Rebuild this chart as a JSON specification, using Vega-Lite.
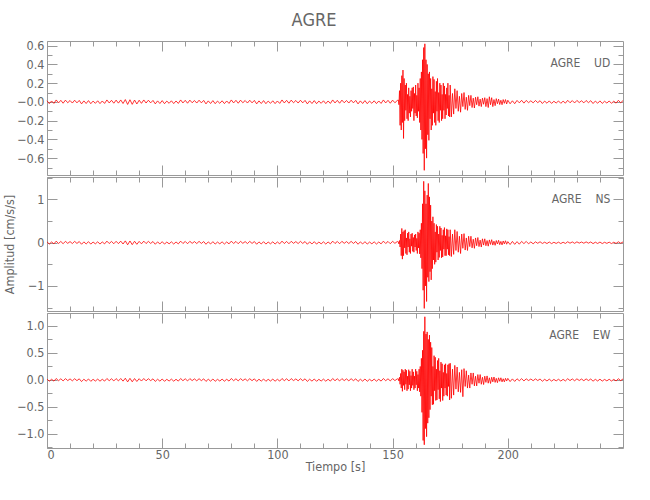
{
  "$schema": "https://vega.github.io/schema/vega-lite/v6.json",
  "background": "white",
  "padding": {"left": 2, "right": 5, "top": 12, "bottom": 5},
  "title": {"text": "AGRE", "anchor": "middle", "font": "DejaVu Sans Condensed, Liberation Sans, sans-serif", "fontSize": 18, "fontWeight": "normal", "color": "#666", "offset": 9},
  "spacing": 0,
  "config": {
    "view": {"stroke": "#999", "strokeWidth": 1},
    "axis": {"domain": false, "grid": false, "labelFont": "DejaVu Sans Condensed, Liberation Sans, sans-serif", "labelFontSize": 12.5, "labelColor": "#666", "tickColor": "#999", "tickWidth": 1, "titleFont": "DejaVu Sans Condensed, Liberation Sans, sans-serif", "titleFontSize": 12.5, "titleFontWeight": "normal", "titleColor": "#666", "labelPadding": 13}
  },
  "datasets": {
    "ud": [
      {"t":0,"a":0.012},{"t":1,"a":-0.018},{"t":2,"a":0.01},{"t":3,"a":-0.016},{"t":4,"a":0.021},{"t":5,"a":-0.011},{"t":6,"a":0.017},{"t":7,"a":-0.014},{"t":8,"a":0.019},{"t":9,"a":-0.009},{"t":10,"a":0.015},{"t":11,"a":-0.012},{"t":12,"a":0.018},{"t":13,"a":-0.01},{"t":14,"a":0.016},{"t":15,"a":-0.021},{"t":16,"a":0.011},{"t":17,"a":-0.017},{"t":18,"a":0.014},{"t":19,"a":-0.019},{"t":20,"a":0.009},{"t":21,"a":-0.015},{"t":22,"a":0.012},{"t":23,"a":-0.018},{"t":24,"a":0.01},{"t":25,"a":-0.016},{"t":26,"a":0.021},{"t":27,"a":-0.011},{"t":28,"a":0.017},{"t":29,"a":-0.014},{"t":30,"a":0.019},{"t":31,"a":-0.013},{"t":32,"a":0.021},{"t":33,"a":-0.017},{"t":34,"a":0.025},{"t":35,"a":-0.027},{"t":36,"a":0.023},{"t":37,"a":-0.026},{"t":38,"a":0.02},{"t":39,"a":-0.022},{"t":40,"a":0.018},{"t":41,"a":-0.015},{"t":42,"a":0.021},{"t":43,"a":-0.012},{"t":44,"a":0.018},{"t":45,"a":-0.01},{"t":46,"a":0.016},{"t":47,"a":-0.021},{"t":48,"a":0.011},{"t":49,"a":-0.017},{"t":50,"a":0.014},{"t":51,"a":-0.019},{"t":52,"a":0.009},{"t":53,"a":-0.015},{"t":54,"a":0.012},{"t":55,"a":-0.018},{"t":56,"a":0.01},{"t":57,"a":-0.016},{"t":58,"a":0.021},{"t":59,"a":-0.011},{"t":60,"a":0.017},{"t":61,"a":-0.014},{"t":62,"a":0.019},{"t":63,"a":-0.009},{"t":64,"a":0.015},{"t":65,"a":-0.012},{"t":66,"a":0.018},{"t":67,"a":-0.01},{"t":68,"a":0.016},{"t":69,"a":-0.021},{"t":70,"a":0.011},{"t":71,"a":-0.017},{"t":72,"a":0.014},{"t":73,"a":-0.019},{"t":74,"a":0.009},{"t":75,"a":-0.015},{"t":76,"a":0.012},{"t":77,"a":-0.018},{"t":78,"a":0.01},{"t":79,"a":-0.016},{"t":80,"a":0.021},{"t":81,"a":-0.011},{"t":82,"a":0.017},{"t":83,"a":-0.014},{"t":84,"a":0.019},{"t":85,"a":-0.009},{"t":86,"a":0.015},{"t":87,"a":-0.012},{"t":88,"a":0.018},{"t":89,"a":-0.01},{"t":90,"a":0.016},{"t":91,"a":-0.021},{"t":92,"a":0.011},{"t":93,"a":-0.017},{"t":94,"a":0.014},{"t":95,"a":-0.019},{"t":96,"a":0.009},{"t":97,"a":-0.015},{"t":98,"a":0.012},{"t":99,"a":-0.018},{"t":100,"a":0.01},{"t":101,"a":-0.016},{"t":102,"a":0.021},{"t":103,"a":-0.011},{"t":104,"a":0.017},{"t":105,"a":-0.014},{"t":106,"a":0.019},{"t":107,"a":-0.009},{"t":108,"a":0.015},{"t":109,"a":-0.012},{"t":110,"a":0.018},{"t":111,"a":-0.01},{"t":112,"a":0.016},{"t":113,"a":-0.021},{"t":114,"a":0.011},{"t":115,"a":-0.017},{"t":116,"a":0.014},{"t":117,"a":-0.019},{"t":118,"a":0.009},{"t":119,"a":-0.015},{"t":120,"a":0.012},{"t":121,"a":-0.018},{"t":122,"a":0.01},{"t":123,"a":-0.016},{"t":124,"a":0.021},{"t":125,"a":-0.011},{"t":126,"a":0.017},{"t":127,"a":-0.014},{"t":128,"a":0.019},{"t":129,"a":-0.009},{"t":130,"a":0.015},{"t":131,"a":-0.012},{"t":132,"a":0.018},{"t":133,"a":-0.01},{"t":134,"a":0.016},{"t":135,"a":-0.021},{"t":136,"a":0.011},{"t":137,"a":-0.017},{"t":138,"a":0.014},{"t":139,"a":-0.019},{"t":140,"a":0.009},{"t":141,"a":-0.015},{"t":142,"a":0.012},{"t":143,"a":-0.018},{"t":144,"a":0.01},{"t":145,"a":-0.016},{"t":146,"a":0.021},{"t":147,"a":-0.011},{"t":148,"a":0.017},{"t":149,"a":-0.014},{"t":150,"a":0.019},{"t":151,"a":-0.009},{"t":152,"a":0.015},
      {"t":152.5,"a":0.02},{"t":152.75,"a":-0.03},{"t":153,"a":0.12},{"t":153.25,"a":-0.25},{"t":153.5,"a":0.2},{"t":153.75,"a":-0.3},{"t":154,"a":0.28},{"t":154.25,"a":-0.22},{"t":154.5,"a":0.34},{"t":154.75,"a":-0.39},{"t":155,"a":0.25},{"t":155.25,"a":-0.2},{"t":155.5,"a":0.18},{"t":155.75,"a":-0.09},{"t":156,"a":0.2},{"t":156.25,"a":-0.18},{"t":156.5,"a":0.08},{"t":156.75,"a":-0.2},{"t":157,"a":0.15},{"t":157.25,"a":-0.12},{"t":157.5,"a":0.06},{"t":157.75,"a":-0.16},{"t":158,"a":0.12},{"t":158.25,"a":-0.1},{"t":158.5,"a":0.15},{"t":158.75,"a":-0.07},{"t":159,"a":0.16},{"t":159.25,"a":-0.2},{"t":159.5,"a":0.09},{"t":159.75,"a":-0.12},{"t":160,"a":0.18},{"t":160.25,"a":-0.15},{"t":160.5,"a":0.07},{"t":160.75,"a":-0.17},{"t":161,"a":0.2},{"t":161.25,"a":-0.1},{"t":161.5,"a":0.15},{"t":161.75,"a":-0.22},{"t":162,"a":0.25},{"t":162.25,"a":-0.3},{"t":162.5,"a":0.32},{"t":162.75,"a":-0.4},{"t":163,"a":0.45},{"t":163.25,"a":-0.55},{"t":163.5,"a":0.58},{"t":163.75,"a":-0.73},{"t":164,"a":0.62},{"t":164.25,"a":-0.5},{"t":164.5,"a":0.45},{"t":164.75,"a":-0.6},{"t":165,"a":0.4},{"t":165.25,"a":-0.35},{"t":165.5,"a":0.3},{"t":165.75,"a":-0.41},{"t":166,"a":0.32},{"t":166.25,"a":-0.18},{"t":166.5,"a":0.25},{"t":166.75,"a":-0.3},{"t":167,"a":0.14},{"t":167.25,"a":-0.25},{"t":167.5,"a":0.27},{"t":167.75,"a":-0.12},{"t":168,"a":0.24},{"t":168.25,"a":-0.22},{"t":168.5,"a":0.11},{"t":168.75,"a":-0.25},{"t":169,"a":0.22},{"t":169.25,"a":-0.1},{"t":169.5,"a":0.25},{"t":169.75,"a":-0.2},{"t":170,"a":0.1},{"t":170.25,"a":-0.22},{"t":170.5,"a":0.2},{"t":170.75,"a":-0.09},{"t":171,"a":0.18},{"t":171.25,"a":-0.2},{"t":171.5,"a":0.08},{"t":171.75,"a":-0.18},{"t":172,"a":0.2},{"t":172.25,"a":-0.09},{"t":172.5,"a":0.17},{"t":172.75,"a":-0.18},{"t":173,"a":0.08},{"t":173.25,"a":-0.14},{"t":173.5,"a":0.15},{"t":173.75,"a":-0.07},{"t":174,"a":0.2},{"t":174.25,"a":-0.15},{"t":174.5,"a":0.07},{"t":174.75,"a":-0.16},{"t":175,"a":0.18},
      {"t":175.5,"a":-0.16},{"t":176,"a":0.09},{"t":176.5,"a":-0.13},{"t":177,"a":0.14},{"t":177.5,"a":-0.07},{"t":178,"a":0.12},{"t":178.5,"a":-0.1},{"t":179,"a":0.06},{"t":179.5,"a":-0.11},{"t":180,"a":0.09},{"t":180.5,"a":-0.05},{"t":181,"a":0.1},{"t":181.5,"a":-0.08},{"t":182,"a":0.05},{"t":182.5,"a":-0.09},{"t":183,"a":0.07},{"t":183.5,"a":-0.04},{"t":184,"a":0.07},{"t":184.5,"a":-0.06},{"t":185,"a":0.04},{"t":185.5,"a":-0.065},{"t":186,"a":0.05},{"t":186.5,"a":-0.03},{"t":187,"a":0.055},{"t":187.5,"a":-0.045},{"t":188,"a":0.03},{"t":188.5,"a":-0.05},{"t":189,"a":0.04},{"t":189.5,"a":-0.025},{"t":190,"a":0.045},{"t":190.5,"a":-0.05},{"t":191,"a":0.035},{"t":191.5,"a":-0.06},{"t":192,"a":0.055},{"t":192.5,"a":-0.03},{"t":193,"a":0.045},{"t":193.5,"a":-0.05},{"t":194,"a":0.025},{"t":194.5,"a":-0.04},{"t":195,"a":0.035},{"t":195.5,"a":-0.02},{"t":196,"a":0.03},{"t":196.5,"a":-0.028},{"t":197,"a":0.018},{"t":197.5,"a":-0.03},{"t":198,"a":0.025},{"t":198.5,"a":-0.015},{"t":199,"a":0.025},{"t":199.5,"a":-0.022},{"t":200,"a":0.018},
      {"t":201,"a":-0.02},{"t":202,"a":0.012},{"t":203,"a":-0.019},{"t":204,"a":0.016},{"t":205,"a":-0.01},{"t":206,"a":0.017},{"t":207,"a":-0.013},{"t":208,"a":0.016},{"t":209,"a":-0.008},{"t":210,"a":0.012},{"t":211,"a":-0.01},{"t":212,"a":0.015},{"t":213,"a":-0.008},{"t":214,"a":0.013},{"t":215,"a":-0.017},{"t":216,"a":0.009},{"t":217,"a":-0.014},{"t":218,"a":0.011},{"t":219,"a":-0.016},{"t":220,"a":0.007},{"t":221,"a":-0.012},{"t":222,"a":0.01},{"t":223,"a":-0.015},{"t":224,"a":0.008},{"t":225,"a":-0.013},{"t":226,"a":0.017},{"t":227,"a":-0.009},{"t":228,"a":0.014},{"t":229,"a":-0.011},{"t":230,"a":0.016},{"t":231,"a":-0.007},{"t":232,"a":0.012},{"t":233,"a":-0.01},{"t":234,"a":0.015},{"t":235,"a":-0.008},{"t":236,"a":0.013},{"t":237,"a":-0.017},{"t":238,"a":0.009},{"t":239,"a":-0.014},{"t":240,"a":0.011},{"t":241,"a":-0.016},{"t":242,"a":0.007},{"t":243,"a":-0.012},{"t":244,"a":0.01},{"t":245,"a":-0.015},{"t":246,"a":0.008},{"t":247,"a":-0.013},{"t":248,"a":0.017},{"t":249,"a":-0.009},{"t":250,"a":0.014}
    ],
    "ns": [
      {"t":0,"a":0.02},{"t":1,"a":-0.031},{"t":2,"a":0.017},{"t":3,"a":-0.027},{"t":4,"a":0.036},{"t":5,"a":-0.019},{"t":6,"a":0.029},{"t":7,"a":-0.024},{"t":8,"a":0.032},{"t":9,"a":-0.015},{"t":10,"a":0.026},{"t":11,"a":-0.02},{"t":12,"a":0.031},{"t":13,"a":-0.017},{"t":14,"a":0.027},{"t":15,"a":-0.036},{"t":16,"a":0.019},{"t":17,"a":-0.029},{"t":18,"a":0.024},{"t":19,"a":-0.032},{"t":20,"a":0.015},{"t":21,"a":-0.026},{"t":22,"a":0.02},{"t":23,"a":-0.031},{"t":24,"a":0.017},{"t":25,"a":-0.027},{"t":26,"a":0.036},{"t":27,"a":-0.019},{"t":28,"a":0.029},{"t":29,"a":-0.024},{"t":30,"a":0.032},{"t":31,"a":-0.022},{"t":32,"a":0.036},{"t":33,"a":-0.03},{"t":34,"a":0.042},{"t":35,"a":-0.048},{"t":36,"a":0.04},{"t":37,"a":-0.045},{"t":38,"a":0.034},{"t":39,"a":-0.037},{"t":40,"a":0.03},{"t":41,"a":-0.026},{"t":42,"a":0.036},{"t":43,"a":-0.02},{"t":44,"a":0.031},{"t":45,"a":-0.017},{"t":46,"a":0.027},{"t":47,"a":-0.036},{"t":48,"a":0.019},{"t":49,"a":-0.029},{"t":50,"a":0.024},{"t":51,"a":-0.032},{"t":52,"a":0.015},{"t":53,"a":-0.026},{"t":54,"a":0.02},{"t":55,"a":-0.031},{"t":56,"a":0.017},{"t":57,"a":-0.027},{"t":58,"a":0.036},{"t":59,"a":-0.019},{"t":60,"a":0.029},{"t":61,"a":-0.024},{"t":62,"a":0.032},{"t":63,"a":-0.015},{"t":64,"a":0.026},{"t":65,"a":-0.02},{"t":66,"a":0.031},{"t":67,"a":-0.017},{"t":68,"a":0.027},{"t":69,"a":-0.036},{"t":70,"a":0.019},{"t":71,"a":-0.029},{"t":72,"a":0.024},{"t":73,"a":-0.032},{"t":74,"a":0.015},{"t":75,"a":-0.026},{"t":76,"a":0.02},{"t":77,"a":-0.031},{"t":78,"a":0.017},{"t":79,"a":-0.027},{"t":80,"a":0.036},{"t":81,"a":-0.019},{"t":82,"a":0.029},{"t":83,"a":-0.024},{"t":84,"a":0.032},{"t":85,"a":-0.015},{"t":86,"a":0.026},{"t":87,"a":-0.02},{"t":88,"a":0.031},{"t":89,"a":-0.017},{"t":90,"a":0.027},{"t":91,"a":-0.036},{"t":92,"a":0.019},{"t":93,"a":-0.029},{"t":94,"a":0.024},{"t":95,"a":-0.032},{"t":96,"a":0.015},{"t":97,"a":-0.026},{"t":98,"a":0.02},{"t":99,"a":-0.031},{"t":100,"a":0.017},{"t":101,"a":-0.027},{"t":102,"a":0.036},{"t":103,"a":-0.019},{"t":104,"a":0.029},{"t":105,"a":-0.024},{"t":106,"a":0.032},{"t":107,"a":-0.015},{"t":108,"a":0.026},{"t":109,"a":-0.02},{"t":110,"a":0.031},{"t":111,"a":-0.017},{"t":112,"a":0.027},{"t":113,"a":-0.036},{"t":114,"a":0.019},{"t":115,"a":-0.029},{"t":116,"a":0.024},{"t":117,"a":-0.032},{"t":118,"a":0.015},{"t":119,"a":-0.026},{"t":120,"a":0.02},{"t":121,"a":-0.031},{"t":122,"a":0.017},{"t":123,"a":-0.027},{"t":124,"a":0.036},{"t":125,"a":-0.019},{"t":126,"a":0.029},{"t":127,"a":-0.024},{"t":128,"a":0.032},{"t":129,"a":-0.015},{"t":130,"a":0.026},{"t":131,"a":-0.02},{"t":132,"a":0.031},{"t":133,"a":-0.017},{"t":134,"a":0.027},{"t":135,"a":-0.036},{"t":136,"a":0.019},{"t":137,"a":-0.029},{"t":138,"a":0.024},{"t":139,"a":-0.032},{"t":140,"a":0.015},{"t":141,"a":-0.026},{"t":142,"a":0.02},{"t":143,"a":-0.031},{"t":144,"a":0.017},{"t":145,"a":-0.027},{"t":146,"a":0.036},{"t":147,"a":-0.019},{"t":148,"a":0.029},{"t":149,"a":-0.024},{"t":150,"a":0.032},{"t":151,"a":-0.015},{"t":152,"a":0.026},
      {"t":152.5,"a":0.02},{"t":152.75,"a":-0.03},{"t":153,"a":0.05},{"t":153.25,"a":-0.1},{"t":153.5,"a":0.2},{"t":153.75,"a":-0.3},{"t":154,"a":0.33},{"t":154.25,"a":-0.38},{"t":154.5,"a":0.25},{"t":154.75,"a":-0.3},{"t":155,"a":0.28},{"t":155.25,"a":-0.12},{"t":155.5,"a":0.3},{"t":155.75,"a":-0.25},{"t":156,"a":0.11},{"t":156.25,"a":-0.28},{"t":156.5,"a":0.22},{"t":156.75,"a":-0.1},{"t":157,"a":0.25},{"t":157.25,"a":-0.22},{"t":157.5,"a":0.09},{"t":157.75,"a":-0.25},{"t":158,"a":0.2},{"t":158.25,"a":-0.08},{"t":158.5,"a":0.22},{"t":158.75,"a":-0.2},{"t":159,"a":0.12},{"t":159.25,"a":-0.22},{"t":159.5,"a":0.18},{"t":159.75,"a":-0.1},{"t":160,"a":0.2},{"t":160.25,"a":-0.18},{"t":160.5,"a":0.1},{"t":160.75,"a":-0.25},{"t":161,"a":0.25},{"t":161.25,"a":-0.12},{"t":161.5,"a":0.22},{"t":161.75,"a":-0.26},{"t":162,"a":0.3},{"t":162.25,"a":-0.35},{"t":162.5,"a":0.45},{"t":162.75,"a":-0.6},{"t":163,"a":0.9},{"t":163.25,"a":-1.1},{"t":163.5,"a":1.42},{"t":163.75,"a":-1.52},{"t":164,"a":1.2},{"t":164.25,"a":-1.0},{"t":164.5,"a":0.9},{"t":164.75,"a":-1.36},{"t":165,"a":1.1},{"t":165.25,"a":-0.8},{"t":165.5,"a":1.37},{"t":165.75,"a":-0.9},{"t":166,"a":1.06},{"t":166.25,"a":-0.67},{"t":166.5,"a":0.87},{"t":166.75,"a":-0.86},{"t":167,"a":0.5},{"t":167.25,"a":-0.6},{"t":167.5,"a":0.6},{"t":167.75,"a":-0.4},{"t":168,"a":0.45},{"t":168.25,"a":-0.5},{"t":168.5,"a":0.25},{"t":168.75,"a":-0.45},{"t":169,"a":0.42},{"t":169.25,"a":-0.22},{"t":169.5,"a":0.38},{"t":169.75,"a":-0.4},{"t":170,"a":0.2},{"t":170.25,"a":-0.34},{"t":170.5,"a":0.38},{"t":170.75,"a":-0.18},{"t":171,"a":0.34},{"t":171.25,"a":-0.35},{"t":171.5,"a":0.17},{"t":171.75,"a":-0.33},{"t":172,"a":0.3},{"t":172.25,"a":-0.15},{"t":172.5,"a":0.35},{"t":172.75,"a":-0.3},{"t":173,"a":0.16},{"t":173.25,"a":-0.3},{"t":173.5,"a":0.32},{"t":173.75,"a":-0.15},{"t":174,"a":0.3},{"t":174.25,"a":-0.28},{"t":174.5,"a":0.14},{"t":174.75,"a":-0.3},{"t":175,"a":0.3},
      {"t":175.5,"a":-0.32},{"t":176,"a":0.2},{"t":176.5,"a":-0.27},{"t":177,"a":0.3},{"t":177.5,"a":-0.18},{"t":178,"a":0.26},{"t":178.5,"a":-0.22},{"t":179,"a":0.15},{"t":179.5,"a":-0.25},{"t":180,"a":0.2},{"t":180.5,"a":-0.13},{"t":181,"a":0.21},{"t":181.5,"a":-0.17},{"t":182,"a":0.11},{"t":182.5,"a":-0.18},{"t":183,"a":0.15},{"t":183.5,"a":-0.09},{"t":184,"a":0.15},{"t":184.5,"a":-0.12},{"t":185,"a":0.08},{"t":185.5,"a":-0.13},{"t":186,"a":0.11},{"t":186.5,"a":-0.07},{"t":187,"a":0.12},{"t":187.5,"a":-0.09},{"t":188,"a":0.06},{"t":188.5,"a":-0.1},{"t":189,"a":0.09},{"t":189.5,"a":-0.055},{"t":190,"a":0.09},{"t":190.5,"a":-0.07},{"t":191,"a":0.05},{"t":191.5,"a":-0.08},{"t":192,"a":0.065},{"t":192.5,"a":-0.04},{"t":193,"a":0.07},{"t":193.5,"a":-0.055},{"t":194,"a":0.035},{"t":194.5,"a":-0.06},{"t":195,"a":0.05},{"t":195.5,"a":-0.03},{"t":196,"a":0.055},{"t":196.5,"a":-0.045},{"t":197,"a":0.03},{"t":197.5,"a":-0.05},{"t":198,"a":0.04},{"t":198.5,"a":-0.028},{"t":199,"a":0.045},{"t":199.5,"a":-0.035},{"t":200,"a":0.025},
      {"t":201,"a":-0.042},{"t":202,"a":0.03},{"t":203,"a":-0.038},{"t":204,"a":0.025},{"t":205,"a":-0.035},{"t":206,"a":0.03},{"t":207,"a":-0.022},{"t":208,"a":0.03},{"t":209,"a":-0.025},{"t":210,"a":0.018},{"t":211,"a":-0.026},{"t":212,"a":0.02},{"t":213,"a":-0.014},{"t":214,"a":0.022},{"t":215,"a":-0.018},{"t":216,"a":0.012},{"t":217,"a":-0.02},{"t":218,"a":0.016},{"t":219,"a":-0.021},{"t":220,"a":0.01},{"t":221,"a":-0.017},{"t":222,"a":0.013},{"t":223,"a":-0.02},{"t":224,"a":0.011},{"t":225,"a":-0.017},{"t":226,"a":0.022},{"t":227,"a":-0.012},{"t":228,"a":0.018},{"t":229,"a":-0.015},{"t":230,"a":0.02},{"t":231,"a":-0.01},{"t":232,"a":0.016},{"t":233,"a":-0.013},{"t":234,"a":0.019},{"t":235,"a":-0.011},{"t":236,"a":0.017},{"t":237,"a":-0.022},{"t":238,"a":0.012},{"t":239,"a":-0.018},{"t":240,"a":0.015},{"t":241,"a":-0.02},{"t":242,"a":0.01},{"t":243,"a":-0.016},{"t":244,"a":0.013},{"t":245,"a":-0.02},{"t":246,"a":0.011},{"t":247,"a":-0.017},{"t":248,"a":0.022},{"t":249,"a":-0.012},{"t":250,"a":0.018}
    ],
    "ew": [
      {"t":0,"a":0.016},{"t":1,"a":-0.023},{"t":2,"a":0.013},{"t":3,"a":-0.021},{"t":4,"a":0.027},{"t":5,"a":-0.014},{"t":6,"a":0.022},{"t":7,"a":-0.018},{"t":8,"a":0.025},{"t":9,"a":-0.012},{"t":10,"a":0.02},{"t":11,"a":-0.016},{"t":12,"a":0.023},{"t":13,"a":-0.013},{"t":14,"a":0.021},{"t":15,"a":-0.03},{"t":16,"a":0.014},{"t":17,"a":-0.022},{"t":18,"a":0.018},{"t":19,"a":-0.025},{"t":20,"a":0.012},{"t":21,"a":-0.02},{"t":22,"a":0.016},{"t":23,"a":-0.023},{"t":24,"a":0.013},{"t":25,"a":-0.021},{"t":26,"a":0.027},{"t":27,"a":-0.014},{"t":28,"a":0.022},{"t":29,"a":-0.018},{"t":30,"a":0.025},{"t":31,"a":-0.017},{"t":32,"a":0.027},{"t":33,"a":-0.022},{"t":34,"a":0.032},{"t":35,"a":-0.036},{"t":36,"a":0.03},{"t":37,"a":-0.034},{"t":38,"a":0.026},{"t":39,"a":-0.028},{"t":40,"a":0.023},{"t":41,"a":-0.02},{"t":42,"a":0.027},{"t":43,"a":-0.016},{"t":44,"a":0.023},{"t":45,"a":-0.013},{"t":46,"a":0.021},{"t":47,"a":-0.027},{"t":48,"a":0.014},{"t":49,"a":-0.022},{"t":50,"a":0.018},{"t":51,"a":-0.025},{"t":52,"a":0.012},{"t":53,"a":-0.02},{"t":54,"a":0.016},{"t":55,"a":-0.023},{"t":56,"a":0.013},{"t":57,"a":-0.021},{"t":58,"a":0.027},{"t":59,"a":-0.014},{"t":60,"a":0.022},{"t":61,"a":-0.018},{"t":62,"a":0.025},{"t":63,"a":-0.012},{"t":64,"a":0.02},{"t":65,"a":-0.016},{"t":66,"a":0.023},{"t":67,"a":-0.013},{"t":68,"a":0.021},{"t":69,"a":-0.027},{"t":70,"a":0.014},{"t":71,"a":-0.022},{"t":72,"a":0.018},{"t":73,"a":-0.025},{"t":74,"a":0.012},{"t":75,"a":-0.02},{"t":76,"a":0.016},{"t":77,"a":-0.023},{"t":78,"a":0.013},{"t":79,"a":-0.021},{"t":80,"a":0.027},{"t":81,"a":-0.014},{"t":82,"a":0.022},{"t":83,"a":-0.018},{"t":84,"a":0.025},{"t":85,"a":-0.012},{"t":86,"a":0.02},{"t":87,"a":-0.016},{"t":88,"a":0.023},{"t":89,"a":-0.013},{"t":90,"a":0.021},{"t":91,"a":-0.027},{"t":92,"a":0.014},{"t":93,"a":-0.022},{"t":94,"a":0.018},{"t":95,"a":-0.025},{"t":96,"a":0.012},{"t":97,"a":-0.02},{"t":98,"a":0.016},{"t":99,"a":-0.023},{"t":100,"a":0.013},{"t":101,"a":-0.021},{"t":102,"a":0.027},{"t":103,"a":-0.014},{"t":104,"a":0.022},{"t":105,"a":-0.018},{"t":106,"a":0.025},{"t":107,"a":-0.012},{"t":108,"a":0.02},{"t":109,"a":-0.016},{"t":110,"a":0.023},{"t":111,"a":-0.013},{"t":112,"a":0.021},{"t":113,"a":-0.027},{"t":114,"a":0.014},{"t":115,"a":-0.022},{"t":116,"a":0.018},{"t":117,"a":-0.025},{"t":118,"a":0.012},{"t":119,"a":-0.02},{"t":120,"a":0.016},{"t":121,"a":-0.023},{"t":122,"a":0.013},{"t":123,"a":-0.021},{"t":124,"a":0.027},{"t":125,"a":-0.014},{"t":126,"a":0.022},{"t":127,"a":-0.018},{"t":128,"a":0.025},{"t":129,"a":-0.012},{"t":130,"a":0.02},{"t":131,"a":-0.016},{"t":132,"a":0.023},{"t":133,"a":-0.013},{"t":134,"a":0.021},{"t":135,"a":-0.027},{"t":136,"a":0.014},{"t":137,"a":-0.022},{"t":138,"a":0.018},{"t":139,"a":-0.025},{"t":140,"a":0.012},{"t":141,"a":-0.02},{"t":142,"a":0.016},{"t":143,"a":-0.023},{"t":144,"a":0.013},{"t":145,"a":-0.021},{"t":146,"a":0.027},{"t":147,"a":-0.014},{"t":148,"a":0.022},{"t":149,"a":-0.018},{"t":150,"a":0.025},{"t":151,"a":-0.012},{"t":152,"a":0.02},
      {"t":152.5,"a":0.02},{"t":152.75,"a":-0.02},{"t":153,"a":0.05},{"t":153.25,"a":-0.08},{"t":153.5,"a":0.12},{"t":153.75,"a":-0.15},{"t":154,"a":0.2},{"t":154.25,"a":-0.21},{"t":154.5,"a":0.18},{"t":154.75,"a":-0.1},{"t":155,"a":0.15},{"t":155.25,"a":-0.18},{"t":155.5,"a":0.2},{"t":155.75,"a":-0.08},{"t":156,"a":0.18},{"t":156.25,"a":-0.2},{"t":156.5,"a":0.07},{"t":156.75,"a":-0.17},{"t":157,"a":0.19},{"t":157.25,"a":-0.09},{"t":157.5,"a":0.16},{"t":157.75,"a":-0.2},{"t":158,"a":0.08},{"t":158.25,"a":-0.15},{"t":158.5,"a":0.2},{"t":158.75,"a":-0.1},{"t":159,"a":0.15},{"t":159.25,"a":-0.18},{"t":159.5,"a":0.07},{"t":159.75,"a":-0.15},{"t":160,"a":0.2},{"t":160.25,"a":-0.09},{"t":160.5,"a":0.16},{"t":160.75,"a":-0.2},{"t":161,"a":0.1},{"t":161.25,"a":-0.15},{"t":161.5,"a":0.2},{"t":161.75,"a":-0.22},{"t":162,"a":0.25},{"t":162.25,"a":-0.3},{"t":162.5,"a":0.4},{"t":162.75,"a":-0.6},{"t":163,"a":0.55},{"t":163.25,"a":-1.12},{"t":163.5,"a":0.9},{"t":163.75,"a":-1.2},{"t":164,"a":1.17},{"t":164.25,"a":-0.9},{"t":164.5,"a":0.85},{"t":164.75,"a":-1.05},{"t":165,"a":0.89},{"t":165.25,"a":-0.8},{"t":165.5,"a":0.75},{"t":165.75,"a":-0.7},{"t":166,"a":0.83},{"t":166.25,"a":-0.55},{"t":166.5,"a":0.7},{"t":166.75,"a":-0.3},{"t":167,"a":0.6},{"t":167.25,"a":-0.46},{"t":167.5,"a":0.25},{"t":167.75,"a":-0.45},{"t":168,"a":0.45},{"t":168.25,"a":-0.2},{"t":168.5,"a":0.42},{"t":168.75,"a":-0.38},{"t":169,"a":0.2},{"t":169.25,"a":-0.37},{"t":169.5,"a":0.36},{"t":169.75,"a":-0.18},{"t":170,"a":0.4},{"t":170.25,"a":-0.35},{"t":170.5,"a":0.17},{"t":170.75,"a":-0.4},{"t":171,"a":0.33},{"t":171.25,"a":-0.15},{"t":171.5,"a":0.3},{"t":171.75,"a":-0.38},{"t":172,"a":0.14},{"t":172.25,"a":-0.3},{"t":172.5,"a":0.28},{"t":172.75,"a":-0.15},{"t":173,"a":0.3},{"t":173.25,"a":-0.28},{"t":173.5,"a":0.12},{"t":173.75,"a":-0.3},{"t":174,"a":0.28},{"t":174.25,"a":-0.12},{"t":174.5,"a":0.3},{"t":174.75,"a":-0.37},{"t":175,"a":0.31},
      {"t":175.5,"a":-0.34},{"t":176,"a":0.2},{"t":176.5,"a":-0.28},{"t":177,"a":0.27},{"t":177.5,"a":-0.17},{"t":178,"a":0.24},{"t":178.5,"a":-0.22},{"t":179,"a":0.14},{"t":179.5,"a":-0.23},{"t":180,"a":0.19},{"t":180.5,"a":-0.31},{"t":181,"a":0.21},{"t":181.5,"a":-0.12},{"t":182,"a":0.17},{"t":182.5,"a":-0.15},{"t":183,"a":0.09},{"t":183.5,"a":-0.15},{"t":184,"a":0.13},{"t":184.5,"a":-0.08},{"t":185,"a":0.13},{"t":185.5,"a":-0.11},{"t":186,"a":0.07},{"t":186.5,"a":-0.11},{"t":187,"a":0.1},{"t":187.5,"a":-0.06},{"t":188,"a":0.1},{"t":188.5,"a":-0.08},{"t":189,"a":0.05},{"t":189.5,"a":-0.085},{"t":190,"a":0.07},{"t":190.5,"a":-0.045},{"t":191,"a":0.075},{"t":191.5,"a":-0.06},{"t":192,"a":0.04},{"t":192.5,"a":-0.065},{"t":193,"a":0.05},{"t":193.5,"a":-0.035},{"t":194,"a":0.055},{"t":194.5,"a":-0.045},{"t":195,"a":0.03},{"t":195.5,"a":-0.05},{"t":196,"a":0.04},{"t":196.5,"a":-0.025},{"t":197,"a":0.04},{"t":197.5,"a":-0.035},{"t":198,"a":0.022},{"t":198.5,"a":-0.035},{"t":199,"a":0.03},{"t":199.5,"a":-0.02},{"t":200,"a":0.03},
      {"t":201,"a":-0.03},{"t":202,"a":0.02},{"t":203,"a":-0.027},{"t":204,"a":0.022},{"t":205,"a":-0.015},{"t":206,"a":0.024},{"t":207,"a":-0.018},{"t":208,"a":0.021},{"t":209,"a":-0.011},{"t":210,"a":0.018},{"t":211,"a":-0.014},{"t":212,"a":0.02},{"t":213,"a":-0.011},{"t":214,"a":0.018},{"t":215,"a":-0.024},{"t":216,"a":0.012},{"t":217,"a":-0.019},{"t":218,"a":0.015},{"t":219,"a":-0.021},{"t":220,"a":0.01},{"t":221,"a":-0.017},{"t":222,"a":0.013},{"t":223,"a":-0.02},{"t":224,"a":0.011},{"t":225,"a":-0.018},{"t":226,"a":0.023},{"t":227,"a":-0.012},{"t":228,"a":0.019},{"t":229,"a":-0.015},{"t":230,"a":0.021},{"t":231,"a":-0.01},{"t":232,"a":0.017},{"t":233,"a":-0.014},{"t":234,"a":0.02},{"t":235,"a":-0.011},{"t":236,"a":0.018},{"t":237,"a":-0.023},{"t":238,"a":0.012},{"t":239,"a":-0.019},{"t":240,"a":0.015},{"t":241,"a":-0.021},{"t":242,"a":0.01},{"t":243,"a":-0.017},{"t":244,"a":0.013},{"t":245,"a":-0.02},{"t":246,"a":0.011},{"t":247,"a":-0.018},{"t":248,"a":0.023},{"t":249,"a":-0.012},{"t":250,"a":0.019}
    ]
  },
  "vconcat": [
    {
      "width": 576, "height": 134,
      "layer": [
        {
          "data": {"name": "ud"},
          "mark": {"type": "line", "color": "#ff0000", "strokeWidth": 0.8},
          "encoding": {
            "x": {"field": "t", "type": "quantitative", "scale": {"domain": [0, 250], "nice": false, "zero": false},
                  "axis": {"orient": "bottom", "title": null, "labels": false, "values": [0,10,20,30,40,50,60,70,80,90,100,110,120,130,140,150,160,170,180,190,200,210,220,230,240],
                           "tickSize": {"condition": {"test": "datum.value % 50 === 0", "value": -10}, "value": -5}}},
            "y": {"field": "a", "type": "quantitative", "scale": {"domain": [-0.78, 0.65], "nice": false, "zero": false},
                  "axis": {"orient": "left", "title": null, "values": [-0.7,-0.6,-0.5,-0.4,-0.3,-0.2,-0.1,0,0.1,0.2,0.3,0.4,0.5,0.6],
                           "labelExpr": "abs(round(datum.value*10)) % 2 === 0 ? (datum.value === 0 ? '−0.0' : format(datum.value, '.1f')) : ''",
                           "tickSize": {"condition": {"test": "abs(round(datum.value*10)) % 2 === 0", "value": -10}, "value": -5}}}
          }
        },
        {
          "data": {"values": [{"lab": "AGRE\u00a0\u00a0\u00a0\u00a0UD"}]},
          "mark": {"type": "text", "align": "right", "baseline": "middle", "font": "DejaVu Sans Condensed, Liberation Sans, sans-serif", "fontSize": 12, "color": "#666"},
          "encoding": {
            "x": {"datum": 244.5, "type": "quantitative",
                  "axis": {"orient": "top", "title": null, "labels": false, "values": [0,10,20,30,40,50,60,70,80,90,100,110,120,130,140,150,160,170,180,190,200,210,220,230,240],
                           "tickSize": {"condition": {"test": "datum.value % 50 === 0", "value": -10}, "value": -5}}},
            "y": {"datum": 0.42, "type": "quantitative",
                  "axis": {"orient": "right", "title": null, "labels": false, "values": [-0.7,-0.6,-0.5,-0.4,-0.3,-0.2,-0.1,0,0.1,0.2,0.3,0.4,0.5,0.6],
                           "tickSize": {"condition": {"test": "abs(round(datum.value*10)) % 2 === 0", "value": -10}, "value": -5}}},
            "text": {"field": "lab"}
          }
        }
      ],
      "resolve": {"axis": {"x": "independent", "y": "independent"}}
    },
    {
      "width": 576, "height": 134,
      "layer": [
        {
          "data": {"name": "ns"},
          "mark": {"type": "line", "color": "#ff0000", "strokeWidth": 0.8},
          "encoding": {
            "x": {"field": "t", "type": "quantitative", "scale": {"domain": [0, 250], "nice": false, "zero": false},
                  "axis": {"orient": "bottom", "title": null, "labels": false, "values": [0,10,20,30,40,50,60,70,80,90,100,110,120,130,140,150,160,170,180,190,200,210,220,230,240],
                           "tickSize": {"condition": {"test": "datum.value % 50 === 0", "value": -10}, "value": -5}}},
            "y": {"field": "a", "type": "quantitative", "scale": {"domain": [-1.58, 1.52], "nice": false, "zero": false},
                  "axis": {"orient": "left", "title": "Amplitud [cm/s/s]", "titlePadding": 11, "values": [-1.5,-1,-0.5,0,0.5,1,1.5],
                           "labelExpr": "datum.value % 1 === 0 ? format(datum.value, 'd') : ''",
                           "tickSize": {"condition": {"test": "datum.value % 1 === 0", "value": -10}, "value": -5}}}
          }
        },
        {
          "data": {"values": [{"lab": "AGRE\u00a0\u00a0\u00a0\u00a0NS"}]},
          "mark": {"type": "text", "align": "right", "baseline": "middle", "font": "DejaVu Sans Condensed, Liberation Sans, sans-serif", "fontSize": 12, "color": "#666"},
          "encoding": {
            "x": {"datum": 244.5, "type": "quantitative",
                  "axis": {"orient": "top", "title": null, "labels": false, "values": [0,10,20,30,40,50,60,70,80,90,100,110,120,130,140,150,160,170,180,190,200,210,220,230,240],
                           "tickSize": {"condition": {"test": "datum.value % 50 === 0", "value": -10}, "value": -5}}},
            "y": {"datum": 1.02, "type": "quantitative",
                  "axis": {"orient": "right", "title": null, "labels": false, "values": [-1.5,-1,-0.5,0,0.5,1,1.5],
                           "tickSize": {"condition": {"test": "datum.value % 1 === 0", "value": -10}, "value": -5}}},
            "text": {"field": "lab"}
          }
        }
      ],
      "resolve": {"axis": {"x": "independent", "y": "independent"}}
    },
    {
      "width": 576, "height": 135,
      "layer": [
        {
          "data": {"name": "ew"},
          "mark": {"type": "line", "color": "#ff0000", "strokeWidth": 0.8},
          "encoding": {
            "x": {"field": "t", "type": "quantitative", "scale": {"domain": [0, 250], "nice": false, "zero": false},
                  "axis": {"orient": "bottom", "title": "Tiempo [s]", "titlePadding": 0, "labelPadding": 10, "values": [0,10,20,30,40,50,60,70,80,90,100,110,120,130,140,150,160,170,180,190,200,210,220,230,240],
                           "labelExpr": "datum.value % 50 === 0 ? datum.label : ''",
                           "tickSize": {"condition": {"test": "datum.value % 50 === 0", "value": -10}, "value": -5}}},
            "y": {"field": "a", "type": "quantitative", "scale": {"domain": [-1.26, 1.24], "nice": false, "zero": false},
                  "axis": {"orient": "left", "title": null, "values": [-1.25,-1,-0.75,-0.5,-0.25,0,0.25,0.5,0.75,1],
                           "labelExpr": "datum.value % 0.5 === 0 ? format(datum.value, '.1f') : ''",
                           "tickSize": {"condition": {"test": "datum.value % 0.5 === 0", "value": -10}, "value": -5}}}
          }
        },
        {
          "data": {"values": [{"lab": "AGRE\u00a0\u00a0\u00a0\u00a0EW"}]},
          "mark": {"type": "text", "align": "right", "baseline": "middle", "font": "DejaVu Sans Condensed, Liberation Sans, sans-serif", "fontSize": 12, "color": "#666"},
          "encoding": {
            "x": {"datum": 244.5, "type": "quantitative",
                  "axis": {"orient": "top", "title": null, "labels": false, "values": [0,10,20,30,40,50,60,70,80,90,100,110,120,130,140,150,160,170,180,190,200,210,220,230,240],
                           "tickSize": {"condition": {"test": "datum.value % 50 === 0", "value": -10}, "value": -5}}},
            "y": {"datum": 0.84, "type": "quantitative",
                  "axis": {"orient": "right", "title": null, "labels": false, "values": [-1.25,-1,-0.75,-0.5,-0.25,0,0.25,0.5,0.75,1],
                           "tickSize": {"condition": {"test": "datum.value % 0.5 === 0", "value": -10}, "value": -5}}},
            "text": {"field": "lab"}
          }
        }
      ],
      "resolve": {"axis": {"x": "independent", "y": "independent"}}
    }
  ]
}
